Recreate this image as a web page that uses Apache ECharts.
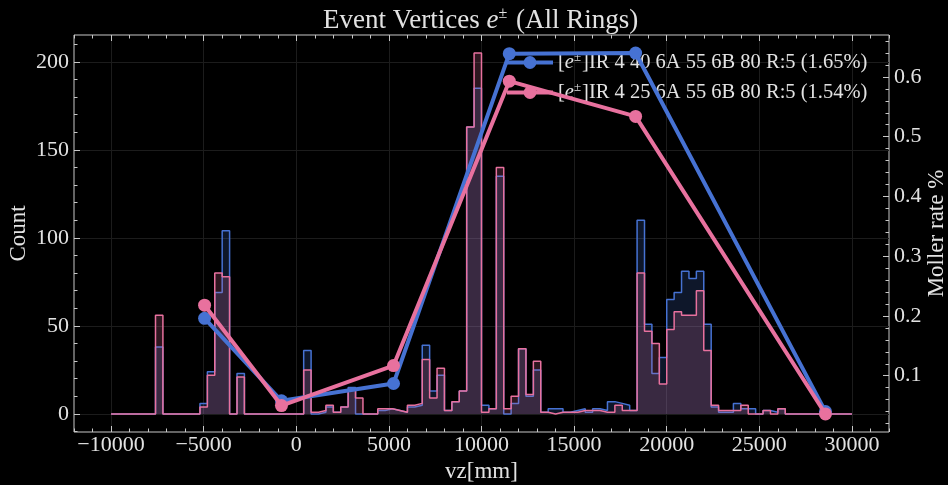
<!DOCTYPE html>
<html><head><meta charset="utf-8">
<script src="https://cdn.jsdelivr.net/npm/echarts@6/dist/echarts.min.js"></script>
<style>html,body{margin:0;padding:0;background:#000;} #c{width:948px;height:485px;}</style>
</head><body><div id="c"></div>
<script>
// ---- data ----
const binEdges = [-10000,-9600,-9200,-8800,-8400,-8000,-7600,-7200,-6800,-6400,
  -6000,-5600,-5200,-4800,-4400,-4000,-3600,-3200,-2800,-2400,
  -2000,-1600,-1200,-800,-400,0,400,800,1200,1600,
  2000,2400,2800,3200,3600,4000,4400,4800,5200,5600,
  6000,6400,6800,7200,7600,8000,8400,8800,9200,9600,
  10000,10400,10800,11200,11600,12000,12400,12800,13200,13600,
  14000,14400,14800,15200,15600,16000,16400,16800,17200,17600,
  18000,18400,18800,19200,19600,20000,20400,20800,21200,21600,
  22000,22400,22800,23200,23600,24000,24400,24800,25200,25600,
  26000,26400,26800,27200,27600,28000,28400,28800,29200,29600,30000];
const countsIR440 = [0,0,0,0,0,0,38,0,0,0,
  0,0,6,24,69,104,0,23,0,0,
  0,0,0,0,0,0,36,0,1,4,
  1,4,15,0,0,0,2,3,2,1,
  4,5,39,13,22,2,7,13,163,185,
  5,3,135,0,6,37,10,25,1,3,
  3,1,2,3,1,3,2,7,6,5,
  2,110,51,23,32,65,69,81,77,81,
  51,4,1,1,6,3,3,0,2,1,
  3,0,0,0,0,0,0,0,0,0];
const countsIR425 = [0,0,0,0,0,0,56,0,0,0,
  0,0,4,22,80,78,0,21,0,0,
  0,0,0,0,0,0,25,1,2,5,
  1,4,14,9,0,0,3,3,2,1,
  5,6,31,9,26,2,7,13,163,205,
  1,3,140,3,10,37,11,30,1,0,
  1,1,1,2,2,2,1,1,5,2,
  2,80,47,40,17,48,58,56,56,70,
  36,5,2,2,2,5,0,0,2,0,
  3,0,0,0,0,0,0,0,0,0];
const mollerVz = [-4950, -800, 5250, 11500, 18320, 28570];
const mollerIR440 = [0.196, 0.058, 0.087, 0.639, 0.640, 0.040];
const mollerIR425 = [0.218, 0.050, 0.117, 0.593, 0.534, 0.036];
const nameIR440 = 'IR 4 40 6A 55 6B 80 R:5 (1.65%)';
const nameIR425 = 'IR 4 25 6A 55 6B 80 R:5 (1.54%)';
const vzTicks = [-10000, -5000, 0, 5000, 10000, 15000, 20000, 25000, 30000];
const countTicks = [0, 50, 100, 150, 200];
const rateTicks = [0.1, 0.2, 0.3, 0.4, 0.5, 0.6];

// ---- helpers ----
function stepList(a, b, s) { const out = []; for (let v = a; v <= b + 1e-9; v += s) out.push(Math.round(v * 1e6) / 1e6); return out; }
const vzMinor = stepList(-12000, 32000, 1000);
const countMinor = stepList(-10, 210, 10);
const rateMinor = stepList(0.02, 0.66, 0.02);
function stepData(edges, counts) {
  const d = counts.map((c, i) => [edges[i], c]);
  d.push([edges[edges.length - 1], 0]);
  return d;
}
const BLUE = '#4672d3', PINK = '#e8719e';
const TXT = '#e2e2e2', SPINE = '#c8c8c8', GRID = '#1c1c1c';
const FONT = 'Liberation Serif';
const X_RANGE = [-12000, 32000], C_RANGE = [-10.25, 215.25], R_RANGE = [0.0058, 0.6702];
const minus = v => String(v).replace('-', '\u2212');

function xAx(gi, pos, ticks, len, labels, split) {
  return { type: 'value', gridIndex: gi, position: pos, min: X_RANGE[0], max: X_RANGE[1],
    axisLine: { show: false, onZero: false },
    axisTick: { show: true, inside: true, length: len, customValues: ticks, lineStyle: { color: SPINE, width: 1 } },
    axisLabel: labels ? { show: true, customValues: ticks, formatter: minus, color: TXT, fontSize: 22, fontFamily: FONT, margin: 2 } : { show: false },
    splitLine: { show: split, lineStyle: { color: GRID, width: 1 } },
    name: labels ? 'vz[mm]' : '', nameLocation: 'middle', nameGap: 28,
    nameTextStyle: { color: TXT, fontSize: 23, fontFamily: FONT } };
}
function yAx(gi, pos, range, ticks, len, labels, split, name, gap) {
  return { type: 'value', gridIndex: gi, position: pos, min: range[0], max: range[1],
    axisLine: { show: false, onZero: false },
    axisTick: { show: true, inside: true, length: len, customValues: ticks, lineStyle: { color: SPINE, width: 1 } },
    axisLabel: labels ? { show: true, customValues: ticks, color: TXT, fontSize: 22, fontFamily: FONT, margin: 5 } : { show: false },
    splitLine: { show: split, lineStyle: { color: GRID, width: 1 } },
    name: name || '', nameLocation: 'middle', nameGap: gap || 0, nameRotate: 90, nameMoveOverlap: false,
    nameTextStyle: { color: TXT, fontSize: 23, fontFamily: FONT } };
}
const gridRect = { left: 74, right: 59, top: 35, bottom: 53, containLabel: false, outerBoundsMode: 'none' };

const chart = echarts.init(document.getElementById('c'), null, { renderer: 'canvas' });
chart.setOption({
  backgroundColor: '#000',
  animation: false,
  title: { text: 'Event Vertices {i|e}{s|\u00b1} (All Rings)', left: 318, top: 1,
    textStyle: { color: TXT, fontSize: 27, fontWeight: 'normal', fontFamily: FONT,
      rich: { i: { fontStyle: 'italic', fontSize: 27, fontFamily: FONT, color: TXT },
              s: { fontSize: 16, fontFamily: FONT, color: TXT, padding: [0, 2, 13, 0] } } } },
  legend: { data: [nameIR440, nameIR425], orient: 'vertical', left: 500, top: 46, itemWidth: 46, itemHeight: 16, itemGap: 8,
    formatter: n => '[{i|e}{s|\u00b1}]' + n,
    lineStyle: { width: 4 },
    textStyle: { color: TXT, fontSize: 20.5, fontFamily: FONT,
      rich: { i: { fontStyle: 'italic', fontSize: 20.5, fontFamily: FONT, color: TXT },
              s: { fontSize: 13, fontFamily: FONT, color: TXT, padding: [0, 1, 10, 0] } } } },
  grid: [Object.assign({ show: true, borderColor: SPINE, borderWidth: 1, backgroundColor: 'transparent' }, gridRect),
         Object.assign({ show: false }, gridRect)],
  xAxis: [xAx(0, 'bottom', vzTicks, 6, true, true), xAx(0, 'top', vzTicks, 6, false, false),
          xAx(1, 'bottom', vzMinor, 3.5, false, false), xAx(1, 'top', vzMinor, 3.5, false, false)],
  yAxis: [yAx(0, 'left', C_RANGE, countTicks, 6, true, true, 'Count', 44),
          yAx(0, 'right', R_RANGE, rateTicks, 6, true, false, 'Moller rate %', 36),
          yAx(1, 'left', C_RANGE, countMinor, 3.5, false, false),
          yAx(1, 'right', R_RANGE, rateMinor, 3.5, false, false)],
  series: [
    { type: 'line', name: 'hist440', xAxisIndex: 0, yAxisIndex: 0, step: 'end', data: stepData(binEdges, countsIR440),
      symbol: 'none', showSymbol: false, silent: true, z: 2,
      lineStyle: { color: BLUE, width: 1.5 }, areaStyle: { color: BLUE, opacity: 0.2 } },
    { type: 'line', name: 'hist425', xAxisIndex: 0, yAxisIndex: 0, step: 'end', data: stepData(binEdges, countsIR425),
      symbol: 'none', showSymbol: false, silent: true, z: 3,
      lineStyle: { color: PINK, width: 1.5 }, areaStyle: { color: PINK, opacity: 0.2 } },
    { type: 'line', name: nameIR440, xAxisIndex: 0, yAxisIndex: 1, data: mollerVz.map((x, i) => [x, mollerIR440[i]]),
      symbol: 'circle', symbolSize: 13, z: 5, lineStyle: { color: BLUE, width: 4 }, itemStyle: { color: BLUE } },
    { type: 'line', name: nameIR425, xAxisIndex: 0, yAxisIndex: 1, data: mollerVz.map((x, i) => [x, mollerIR425[i]]),
      symbol: 'circle', symbolSize: 13, z: 6, lineStyle: { color: PINK, width: 4 }, itemStyle: { color: PINK } }
  ]
});
</script></body></html>
